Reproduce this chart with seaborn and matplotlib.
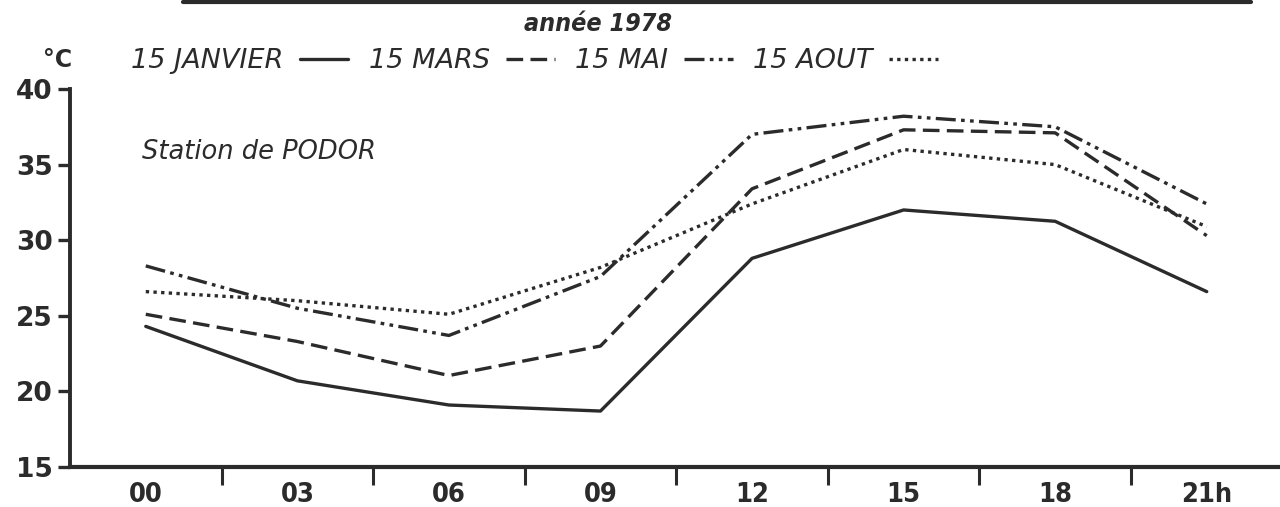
import numpy as np
import pandas as pd
import matplotlib
matplotlib.use("Agg")
import matplotlib.pyplot as plt
import seaborn as sns
from matplotlib.lines import Line2D
from matplotlib.font_manager import FontProperties

# data (temperature, deg C, Station de Podor, 1978)
heures = [0, 3, 6, 9, 12, 15, 18, 21]
heure_labels = ["00", "03", "06", "09", "12", "15", "18", "21h"]
janvier = [24.3, 20.7, 19.1, 18.7, 28.8, 32.0, 31.25, 26.6]
mars = [25.1, 23.3, 21.05, 23.0, 33.4, 37.3, 37.1, 30.3]
mai = [28.3, 25.5, 23.7, 27.6, 37.0, 38.2, 37.5, 32.4]
aout = [26.6, 26.0, 25.1, 28.2, 32.4, 36.0, 35.0, 30.9]
series_names = ["15 JANVIER", "15 MARS", "15 MAI", "15 AOUT"]
y_ticks = [15, 20, 25, 30, 35, 40]

ink = "#2b2b2b"

df = pd.DataFrame({
    "heure": heures * 4,
    "temp": janvier + mars + mai + aout,
    "date": np.repeat(series_names, len(heures)),
})

sns.set_style("white")
plt.rcParams["font.family"] = ["DejaVu Sans"]

fig = plt.figure(figsize=(12.8, 5.07), dpi=100)
ax = fig.add_axes([70 / 1280, 40 / 507, 1210 / 1280, 378 / 507])

dashes = {
    "15 JANVIER": "",
    "15 MARS": (5, 2.2),
    "15 MAI": (6, 1.6, 1.1, 1.6, 1.1, 1.6),
    "15 AOUT": (1, 1.3),
}
palette = {n: ink for n in series_names}
sns.lineplot(data=df, x="heure", y="temp", hue="date", style="date",
             dashes=dashes, palette=palette, linewidth=2.4, ax=ax,
             legend=True)

handles, labels = ax.get_legend_handles_labels()
ax.get_legend().remove()
for h in handles:
    h.set_linewidth(2.4)

ax.set_xlim(-1.5, 22.45)
ax.set_ylim(15, 40)
ax.set_xlabel("")
ax.set_ylabel("")

for s in ["top", "right"]:
    ax.spines[s].set_visible(False)
ax.spines["left"].set_linewidth(2.8)
ax.spines["left"].set_color(ink)
ax.spines["bottom"].set_linewidth(3.0)
ax.spines["bottom"].set_color(ink)

ax.set_yticks(y_ticks)
ax.set_yticklabels([str(v) for v in y_ticks])
ax.tick_params(axis="y", direction="out", length=9, width=2.4, color=ink,
               pad=3.5, labelsize=19, labelcolor=ink, left=True)
for lab in ax.get_yticklabels():
    lab.set_fontweight("bold")

ax.set_xticks(heures)
ax.set_xticklabels(heure_labels)
ax.set_xticks([h + 1.5 for h in heures[:-1]], minor=True)
ax.tick_params(axis="x", which="major", length=0, pad=11, labelsize=19.5,
               labelcolor=ink)
ax.tick_params(axis="x", which="minor", direction="out", length=13,
               width=2.2, color=ink, bottom=True)
for lab in ax.get_xticklabels():
    lab.set_fontweight("bold")
    lab.set_fontstretch("condensed")

ax.text(0.0595, 0.833, "Station de PODOR", transform=ax.transAxes,
        fontsize=18.5, style="italic", color=ink, va="center", ha="left")

fig.text(598 / 1280, 1 - 24 / 507, "année 1978", fontsize=18,
         style="italic", fontweight="bold", fontstretch="condensed",
         color=ink, ha="center", va="center")
fig.text(58 / 1280, 1 - 60 / 507, "°C", fontsize=17, fontweight="bold",
         color=ink, ha="center", va="center")

fp = FontProperties(family="DejaVu Sans", style="italic", size=19.5)
leg = fig.legend(handles, labels, ncol=4, markerfirst=False,
                 loc="center left", bbox_to_anchor=(131 / 1280, 1 - 61 / 507),
                 frameon=False, handlelength=1.8, handletextpad=0.6,
                 columnspacing=0.75, borderaxespad=0, borderpad=0, prop=fp)
for t in leg.get_texts():
    t.set_color(ink)

fig.add_artist(Line2D([0.143, 0.977], [0.997, 0.997], lw=3, color=ink))

fig.savefig("out.png", dpi=100, facecolor="white")
